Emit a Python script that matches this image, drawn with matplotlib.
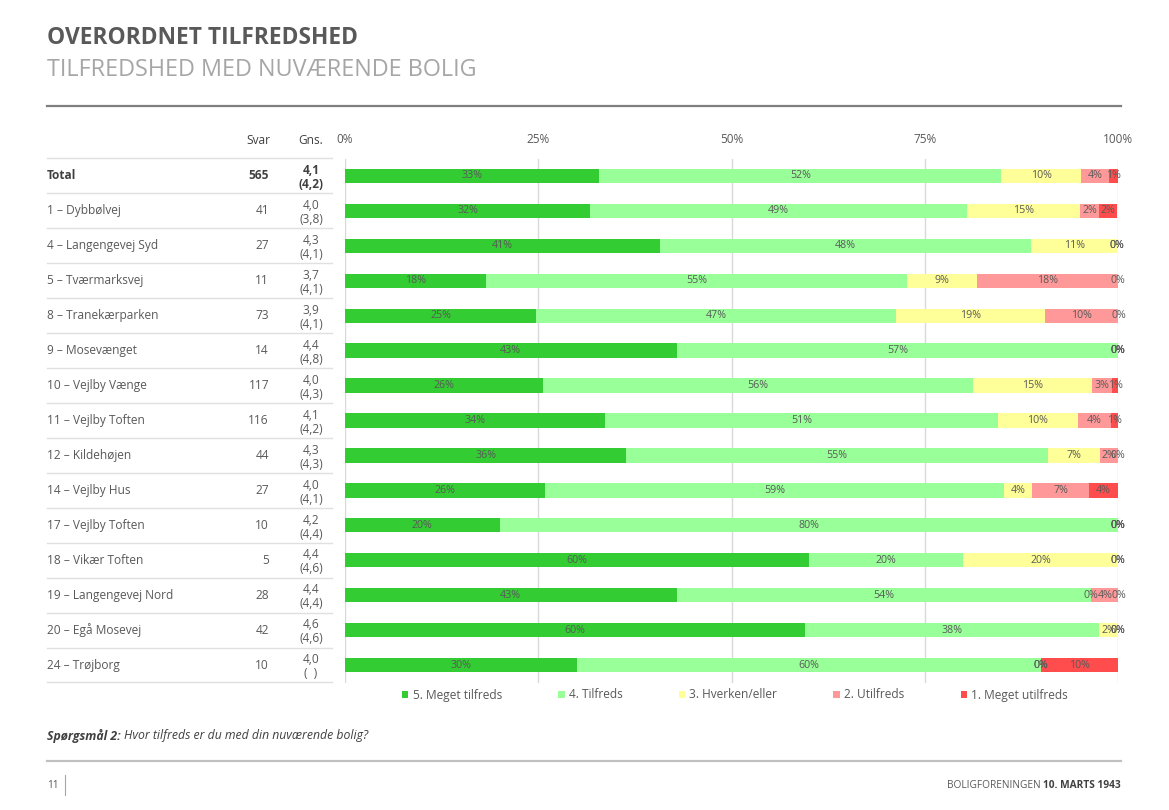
import matplotlib
matplotlib.use("Agg")
import matplotlib.pyplot as plt
from matplotlib.transforms import blended_transform_factory
from matplotlib.lines import Line2D
import numpy as np

# ---------------- data ----------------
categories = ["Total", "1 – Dybbølvej", "4 – Langengevej Syd", "5 – Tværmarksvej",
              "8 – Tranekærparken", "9 – Mosevænget", "10 – Vejlby Vænge",
              "11 – Vejlby Toften", "12 – Kildehøjen", "14 – Vejlby Hus",
              "17 – Vejlby Toften", "18 – Vikær Toften", "19 – Langengevej Nord",
              "20 – Egå Mosevej", "24 – Trøjborg"]
svar = [565, 41, 27, 11, 73, 14, 117, 116, 44, 27, 10, 5, 28, 42, 10]
gns = ["4,1", "4,0", "4,3", "3,7", "3,9", "4,4", "4,0", "4,1", "4,3", "4,0",
       "4,2", "4,4", "4,4", "4,6", "4,0"]
gns_prev = ["(4,2)", "(3,8)", "(4,1)", "(4,1)", "(4,1)", "(4,8)", "(4,3)", "(4,2)",
            "(4,3)", "(4,1)", "(4,4)", "(4,6)", "(4,4)", "(4,6)", "(  )"]

series_names = ["5. Meget tilfreds", "4. Tilfreds", "3. Hverken/eller",
                "2. Utilfreds", "1. Meget utilfreds"]
meget_tilfreds = [32.9, 31.7, 40.7, 18.2, 24.7, 42.9, 25.6, 33.6, 36.4, 25.9, 20.0, 60.0, 42.9, 59.5, 30.0]
tilfreds       = [52.0, 48.8, 48.1, 54.5, 46.6, 57.1, 55.6, 50.9, 54.5, 59.3, 80.0, 20.0, 53.6, 38.1, 60.0]
hverken        = [10.3, 14.6, 11.1, 9.1, 19.2, 0.0, 15.4, 10.3, 6.8, 3.7, 0.0, 20.0, 0.0, 2.4, 0.0]
utilfreds      = [3.7, 2.4, 0.0, 18.2, 9.6, 0.0, 2.6, 4.3, 2.3, 7.4, 0.0, 0.0, 3.6, 0.0, 0.0]
meget_utilfreds = [1.1, 2.4, 0.0, 0.0, 0.0, 0.0, 0.9, 0.9, 0.0, 3.7, 0.0, 0.0, 0.0, 0.0, 10.0]
series_values = [meget_tilfreds, tilfreds, hverken, utilfreds, meget_utilfreds]
series_colors = ["#33CC33", "#99FF99", "#FFFF99", "#FF9999", "#FF4D4D"]

xticks = [0, 25, 50, 75, 100]
xticklabels = ["0%", "25%", "50%", "75%", "100%"]

# ---------------- layout helpers ----------------
W, H = 1169, 810
def fx(x): return x / W
def fy(y): return 1 - y / H

FONT = "Open Sans"
plt.rcParams["font.family"] = [FONT, "DejaVu Sans"]
TXT = "#595959"

fig = plt.figure(figsize=(W / 100, H / 100), dpi=100)
fig.patch.set_facecolor("white")

ax_left, ax_right = 345, 1118
ax_top, ax_bot = 158.5, 682.5
ax = fig.add_axes([fx(ax_left), fy(ax_bot), (ax_right - ax_left) / W, (ax_bot - ax_top) / H])

n = len(categories)
y = np.arange(n)
left = np.zeros(n)
for name, vals, col in zip(series_names, series_values, series_colors):
    vals = np.array(vals, dtype=float)
    ax.barh(y, vals, left=left, height=0.41, color=col, label=name, zorder=2)
    centers = left + vals / 2
    for yi, cx, v in zip(y, centers, vals):
        ax.text(cx, yi, "%d%%" % int(np.floor(v + 0.5)), ha="center", va="center",
                fontsize=7.7, color=TXT, zorder=3, clip_on=False)
    left += vals

ax.set_xlim(0, 100)
ax.set_ylim(n - 0.5, -0.5)
ax.set_xticks(xticks)
ax.set_xticklabels(xticklabels)
ax.set_yticks([])
ax.xaxis.tick_top()
ax.tick_params(axis="x", length=0, pad=9, labelsize=8.5, labelcolor=TXT)
ax.grid(axis="x", color="#d9d9d9", lw=1, zorder=0)
ax.set_axisbelow(True)
for s in ax.spines.values():
    s.set_visible(False)

# ---------------- table ----------------
trans = blended_transform_factory(fig.transFigure, ax.transData)
for i in range(n):
    bold = (i == 0)
    col = "#404040" if bold else TXT
    fw = "bold" if bold else "normal"
    ax.text(fx(47), i, categories[i], transform=trans, ha="left", va="center",
            fontsize=8.6, color=col, fontweight=fw, clip_on=False)
    ax.text(fx(269), i, str(svar[i]), transform=trans, ha="right", va="center",
            fontsize=8.6, color=col, fontweight=fw, clip_on=False)
    ax.text(fx(311), i + 0.05, gns[i] + "\n" + gns_prev[i], transform=trans, ha="center",
            va="center", fontsize=8.6, color=col, fontweight=fw, linespacing=1.1,
            clip_on=False)
for i in range(n + 1):
    ax.add_line(Line2D([fx(47), fx(332)], [i - 0.5, i - 0.5], transform=trans,
                       color="#e0e0e0", lw=1, clip_on=False))

fig.text(fx(258), fy(140), "Svar", ha="center", va="center", fontsize=8.6,
         color="#404040")
fig.text(fx(311), fy(140), "Gns.", ha="center", va="center", fontsize=8.6,
         color="#404040")

# ---------------- legend ----------------
leg = fig.legend(loc="center", bbox_to_anchor=(fx(735), fy(695)),
                 bbox_transform=fig.transFigure, ncol=5, frameon=False,
                 fontsize=8.6, handlelength=0.55, handleheight=0.55,
                 handletextpad=0.35, columnspacing=4.7, borderpad=0)
for t in leg.get_texts():
    t.set_color(TXT)

# ---------------- titles, lines, footer ----------------
fig.text(fx(47), fy(38), "OVERORDNET TILFREDSHED", ha="left", va="center",
         fontsize=16.4, fontweight="bold", color="#595959")
fig.text(fx(47), fy(70), "TILFREDSHED MED NUVÆRENDE BOLIG", ha="left", va="center",
         fontsize=16.8, color="#a6a6a6")
fig.add_artist(Line2D([fx(47), fx(1121)], [fy(106), fy(106)], color="#7f7f7f", lw=1.6))
fig.add_artist(Line2D([fx(47), fx(1121)], [fy(761), fy(761)], color="#c0c0c0", lw=1.6))

renderer = fig.canvas.get_renderer()
q1 = fig.text(fx(47), fy(736), "Spørgsmål 2:", ha="left", va="center", fontsize=8.85,
              fontweight="bold", style="italic", color="#404040")
bb = q1.get_window_extent(renderer)
fig.text(bb.x1 / W + fx(3), fy(736), "Hvor tilfreds er du med din nuværende bolig?",
         ha="left", va="center", fontsize=8.85, style="italic", color="#404040")

fig.text(fx(47), fy(785), "11", ha="left", va="center", fontsize=7.2, color=TXT)
fig.add_artist(Line2D([fx(65), fx(65)], [fy(775), fy(795)], color="#a6a6a6", lw=0.8))
f1 = fig.text(fx(1121), fy(785), "10. MARTS 1943", ha="right", va="center", fontsize=7.3,
              fontweight="bold", color="#404040")
bb2 = f1.get_window_extent(renderer)
fig.text(bb2.x0 / W - fx(3), fy(785), "BOLIGFORENINGEN", ha="right", va="center",
         fontsize=7.3, color=TXT)

fig.savefig("out.png", dpi=100, facecolor="white")
